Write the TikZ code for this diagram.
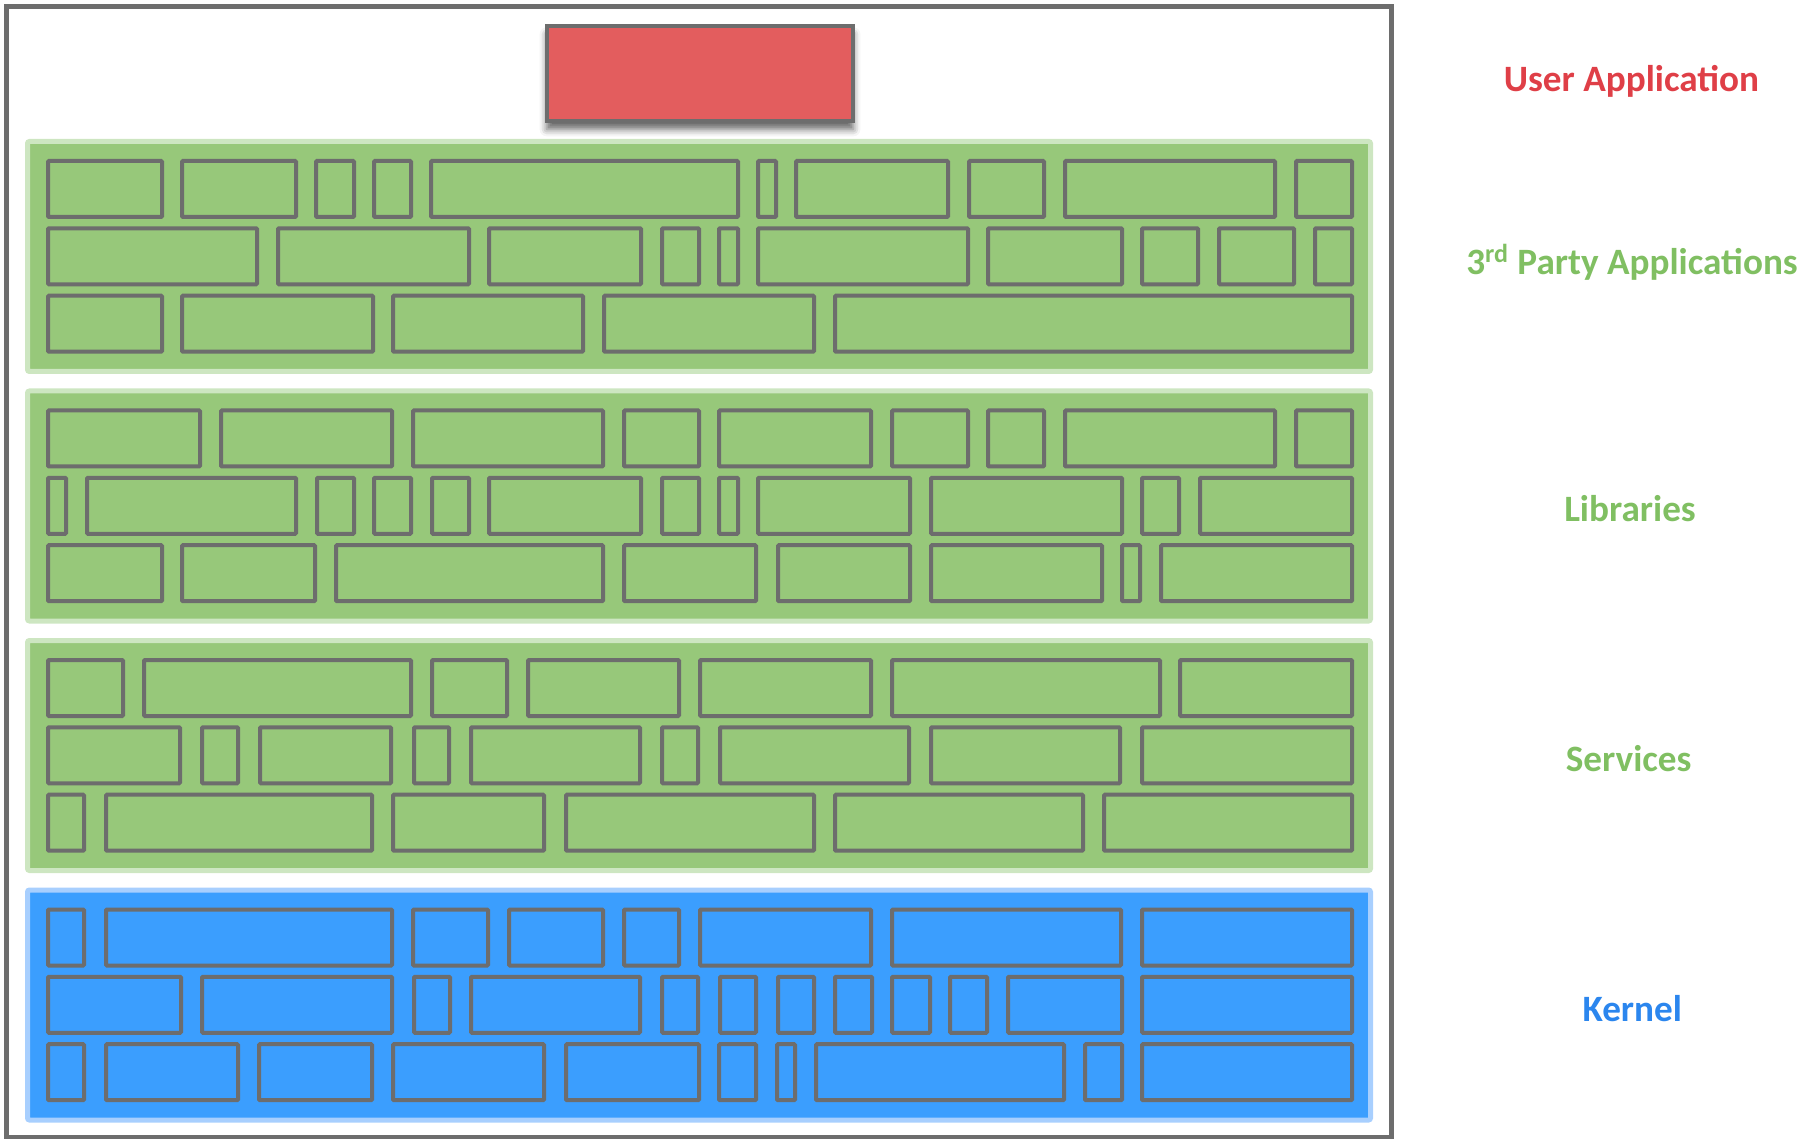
\documentclass[tikz,border=0pt]{standalone}
\usepackage{fontspec}
\setmainfont{Carlito}
\usetikzlibrary{shadows.blur}

\definecolor{appred}{HTML}{E35D5E}
\definecolor{labelred}{HTML}{DF3F47}
\definecolor{layergreen}{HTML}{97C87A}
\definecolor{layerrim}{HTML}{CDE6C1}
\definecolor{labelgreen}{HTML}{80BF62}
\definecolor{kernelblue}{HTML}{3B9EFE}
\definecolor{kernelrim}{HTML}{A8CFFE}
\definecolor{labelblue}{HTML}{2B86EE}
\definecolor{brickgray}{HTML}{6D6D6D}

% one row of bricks: outer top edge, list of left/right outer edges
\newcommand{\bricks}[2]{%
    \foreach \a/\b in {#2} {\draw[brick] ({\a+2},{#1+2}) rectangle ({\b-2},{#1+58});}
}
% one layer band: outer top edge, fill, rim
\newcommand{\layer}[3]{%
    \draw[layer, fill=#2, draw=#3] (27.5,{#1+2.5}) rectangle (1370.5,{#1+232.5});
}

\begin{document}
\begin{tikzpicture}[
        x=0.5pt, y=-0.5pt,
        brick/.style={draw=brickgray, line width=2pt, rounded corners=0.5pt},
        layer/.style={line width=2.5pt, rounded corners=1pt},
        appbox/.style={draw=brickgray, fill=appred, line width=2pt, inner sep=0pt,
            minimum width=153.4pt, minimum height=47.5pt,
            blur shadow={shadow xshift=0pt, shadow yshift=-4pt, shadow blur radius=3.5pt, shadow opacity=60}},
        layerlabel/.style={anchor=base, font=\bfseries\fontsize{18.6}{22}\selectfont},
    ]
    \useasboundingbox (0,0) rectangle (1817,1139);

    % Frame
    \draw[brickgray, line width=2.5pt] (6.5,6.5) rectangle (1391.5,1137);

    % User application
    \node[appbox] (userapp) at (700,73.8) {};

    % 3rd party applications
    \def\T{139}
    \layer{\T}{layergreen}{layerrim}
    \bricks{\T+20}{46/164, 180/298, 314/356, 372/413, 429/740, 756/778, 794/950, 967/1046, 1063/1277, 1294/1354}
    \bricks{\T+87.3}{46/259, 276/471, 487/643, 660/701, 717/740, 756/970, 986/1124, 1140/1200, 1217/1296, 1313/1354}
    \bricks{\T+154.7}{46/164, 180/375, 391/585, 602/816, 833/1354}

    % Libraries
    \def\T{388.5}
    \layer{\T}{layergreen}{layerrim}
    \bricks{\T+20}{46/202, 219/394, 411/605, 622/701, 717/873, 890/970, 986/1046, 1063/1277, 1294/1354}
    \bricks{\T+87.3}{46/68, 85/298, 315/356, 372/413, 430/471, 487/643, 660/701, 717/740, 756/912, 929/1124, 1140/1181, 1198/1354}
    \bricks{\T+154.7}{46/164, 180/317, 334/605, 622/758, 776/912, 929/1104, 1120/1142, 1159/1354}

    % Services
    \def\T{638}
    \layer{\T}{layergreen}{layerrim}
    \bricks{\T+20}{46/125, 142/413, 430/509, 526/681, 698/873, 890/1162, 1178/1354}
    \bricks{\T+87.3}{46/182, 200/240, 258/393, 412/451, 469/642, 660/700, 718/911, 929/1122, 1140/1354}
    \bricks{\T+154.7}{46/86, 104/374, 391/546, 564/816, 833/1085, 1102/1354}

    % Kernel
    \def\T{887.5}
    \layer{\T}{kernelblue}{kernelrim}
    \bricks{\T+20}{46/86, 104/394, 411/490, 507/605, 622/681, 698/873, 890/1123, 1140/1354}
    \bricks{\T+87.3}{46/183, 200/394, 412/452, 469/642, 660/700, 718/758, 776/816, 833/874, 890/932, 948/989, 1006/1124, 1140/1354}
    \bricks{\T+154.7}{46/86, 104/240, 257/374, 391/546, 564/701, 717/758, 775/797, 814/1066, 1083/1124, 1140/1354}

    % Labels
    \node[layerlabel, text=labelred] (userlbl) at (1631.5,92) {User Application};
    \node[layerlabel, text=labelgreen] (thirdlbl) at (1632,275) {3\textsuperscript{rd} Party Applications};
    \node[layerlabel, text=labelgreen] (liblbl) at (1630,522) {Libraries};
    \node[layerlabel, text=labelgreen] (svclbl) at (1628.7,771) {Services};
    \node[layerlabel, text=labelblue] (kernlbl) at (1632.3,1021) {Kernel};
\end{tikzpicture}
\end{document}
